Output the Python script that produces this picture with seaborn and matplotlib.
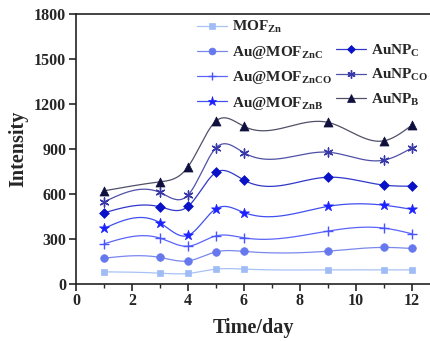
import numpy as np
import pandas as pd
import matplotlib
matplotlib.use("Agg")
import matplotlib.pyplot as plt
from matplotlib.lines import Line2D
import seaborn as sns

# ---- data ----
days = [1, 3, 4, 5, 6, 9, 11, 12]
mof_zn      = [78, 69, 67, 96, 96, 91, 91, 91]
au_mof_znc  = [169, 174, 151, 211, 214, 216, 241, 234]
au_mof_znco = [265, 303, 249, 318, 305, 350, 370, 332]
au_mof_znb  = [368, 405, 321, 499, 474, 515, 523, 495]
aunp_c      = [472, 512, 515, 742, 690, 710, 657, 650]
aunp_co     = [545, 608, 590, 906, 873, 877, 824, 906]
aunp_b      = [619, 679, 779, 1085, 1049, 1076, 953, 1058]

labels = [r"MOF$_{\mathbf{Zn}}$", r"Au@MOF$_{\mathbf{ZnC}}$", r"Au@MOF$_{\mathbf{ZnCO}}$",
          r"Au@MOF$_{\mathbf{ZnB}}$", r"AuNP$_{\mathbf{C}}$", r"AuNP$_{\mathbf{CO}}$", r"AuNP$_{\mathbf{B}}$"]
xticks = [0, 2, 4, 6, 8, 10, 12]
yticks = [0, 300, 600, 900, 1200, 1500, 1800]

series = [mof_zn, au_mof_znc, au_mof_znco, au_mof_znb, aunp_c, aunp_co, aunp_b]
marker_colors = ["#9fbcf7", "#6678ee", "#4a55ff", "#1c22ff", "#0a12c8", "#3838a8", "#10103f"]
line_colors = ["#a8c2f5", "#7a88ee", "#5a64f8", "#4050f0", "#3038c8", "#5050a8", "#505068"]
markers = ["s", "o", "+", "*", "D", (6, 2, 0), "^"]
msizes = [5, 5.5, 6.5, 7.5, 5, 6.5, 6.5]

def natural_spline(x, y, n=400):
    x = np.asarray(x, float); y = np.asarray(y, float)
    k = len(x); h = np.diff(x)
    A = np.zeros((k, k)); b = np.zeros(k)
    A[0, 0] = 1; A[-1, -1] = 1
    for i in range(1, k - 1):
        A[i, i - 1] = h[i - 1]; A[i, i] = 2 * (h[i - 1] + h[i]); A[i, i + 1] = h[i]
        b[i] = 3 * ((y[i + 1] - y[i]) / h[i] - (y[i] - y[i - 1]) / h[i - 1])
    c = np.linalg.solve(A, b)
    xs = np.linspace(x[0], x[-1], n); ys = np.empty_like(xs)
    for j, xv in enumerate(xs):
        i = min(np.searchsorted(x, xv, side="right") - 1, k - 2)
        dx = xv - x[i]
        bi = (y[i + 1] - y[i]) / h[i] - h[i] * (2 * c[i] + c[i + 1]) / 3
        di = (c[i + 1] - c[i]) / (3 * h[i])
        ys[j] = y[i] + bi * dx + c[i] * dx ** 2 + di * dx ** 3
    return xs, ys

sns.set_style("ticks")
plt.rcParams["font.family"] = ["Liberation Serif", "DejaVu Serif"]
plt.rcParams["font.weight"] = "bold"
plt.rcParams["mathtext.fontset"] = "custom"
plt.rcParams["mathtext.rm"] = "Liberation Serif:bold"
plt.rcParams["mathtext.bf"] = "Liberation Serif:bold"
plt.rcParams["mathtext.it"] = "Liberation Serif:bold"

fig = plt.figure(figsize=(4.31, 3.41), dpi=100)
ax = fig.add_axes([76 / 431, 1 - 283.5 / 341, (431 - 76) / 431, (283.5 - 14) / 341])

for vals, mc, lc, mk, ms in zip(series, marker_colors, line_colors, markers, msizes):
    xs, ys = natural_spline(days, vals)
    sns.lineplot(x=xs, y=ys, ax=ax, color=lc, linewidth=0.9, sort=False, legend=False)
    filled = mk not in ("+", (6, 2, 0))
    sns.scatterplot(x=days, y=vals, ax=ax, marker=mk, s=ms ** 2,
                    color=mc, edgecolor=mc if filled else None,
                    linewidth=0.5 if filled else 1.0, legend=False, zorder=3)

ax.set_xlim(0, 12.68)
ax.set_ylim(0, 1800)
ax.set_xticks(xticks)
ax.set_yticks(yticks)
ax.set_xticks(range(1, 13, 2), minor=True)
ax.tick_params(axis="both", which="major", direction="out", length=5, width=1.2,
               labelsize=11.5, pad=2)
ax.tick_params(axis="x", which="minor", direction="out", length=3, width=1.0)
for lab in ax.get_xticklabels() + ax.get_yticklabels():
    lab.set_fontweight("bold")
for sp in ["left", "bottom", "top"]:
    ax.spines[sp].set_linewidth(1.2)
    ax.spines[sp].set_color("#222222")
ax.spines["right"].set_visible(False)
ax.set_xlabel("Time/day", fontsize=14.5, fontweight="bold", labelpad=6)
ax.set_ylabel("Intensity", fontsize=14.5, fontweight="bold", labelpad=4)

handles = []
for mc, lc, mk, ms in zip(marker_colors, line_colors, markers, msizes):
    filled = mk not in ("+", (6, 2, 0))
    handles.append(Line2D([0], [0], color=lc, lw=0.9, marker=mk, markersize=ms * 0.9,
                          markerfacecolor=mc, markeredgecolor=mc,
                          markeredgewidth=0.5 if filled else 1.0))
blank = Line2D([0], [0], color="none")
h_order = handles[:4] + [blank] + handles[4:]
l_order = labels[:4] + [""] + labels[4:]
leg = ax.legend(h_order, l_order, ncol=2, loc="upper left", bbox_to_anchor=(0.325, 1.0),
                frameon=False, fontsize=11, handlelength=2.0, handletextpad=0.3,
                columnspacing=0.25, labelspacing=0.55, borderaxespad=0.2, borderpad=0.15)
for t in leg.get_texts():
    t.set_fontweight("bold")

fig.savefig("out.png", dpi=100)
